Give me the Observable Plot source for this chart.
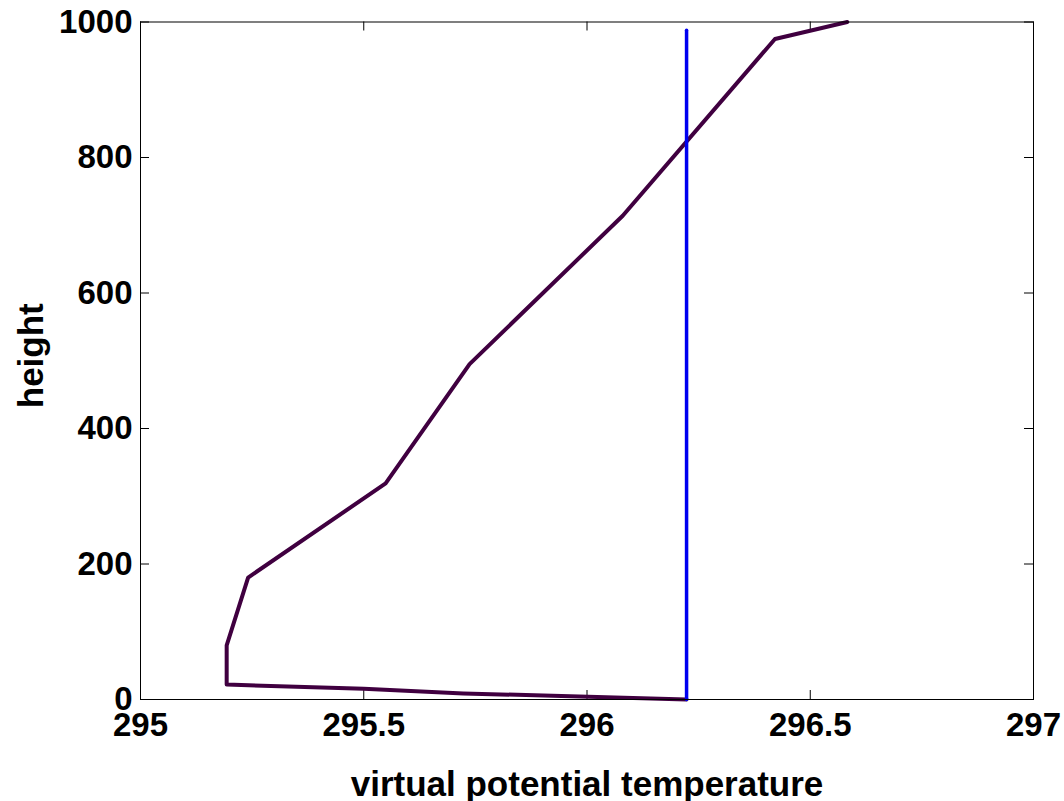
<!DOCTYPE html>
<html>
<head>
<meta charset="utf-8">
<script src="https://cdn.jsdelivr.net/npm/d3@7"></script>
<script src="https://cdn.jsdelivr.net/npm/@observablehq/plot@0.6"></script>
<style>
  html, body { margin: 0; padding: 0; background: white; }
  svg { display: block; }
</style>
</head>
<body>
<div id="chart"></div>
<script>
// Virtual potential temperature profile (K) vs height
const theta = [296.223, 295.723, 295.5, 295.193, 295.193, 295.241, 295.549, 295.737, 296.080, 296.421, 296.583];
const heightVals = [0, 9, 16, 22, 80, 180, 319, 495, 714, 975, 1000];

// Reference (mean) virtual potential temperature
const refTheta = [296.223, 296.223];
const refHeight = [0, 988];

const xTicks = [295, 295.5, 296, 296.5, 297];
const yTicks = [0, 200, 400, 600, 800, 1000];
const xTickLabels = ["295", "295.5", "296", "296.5", "297"];
const yTickLabels = ["0", "200", "400", "600", "800", "1000"];

const xLabel = "virtual potential temperature";
const yLabel = "height";

const profile = theta.map((t, i) => ({t, h: heightVals[i]}));
const refLine = refTheta.map((t, i) => ({t, h: refHeight[i]}));

const W = 1064, H = 801;
const mL = 140, mR = 31, mT = 21.5, mB = 102;
const fw = W - mL - mR, fh = H - mT - mB;
const tickLen = 9;

const chart = Plot.plot({
  width: W,
  height: H,
  marginLeft: mL,
  marginRight: mR,
  marginTop: mT,
  marginBottom: mB,
  x: {domain: [295, 297]},
  y: {domain: [0, 1000]},
  style: {fontFamily: "'Liberation Sans', Arial, sans-serif", fontWeight: "bold", background: "white", color: "black"},
  marks: [
    // inward ticks on all four sides
    Plot.tickX(xTicks, {x: d => d, insetTop: fh - tickLen, stroke: "black", strokeWidth: 1}),
    Plot.tickX(xTicks, {x: d => d, insetBottom: fh - tickLen, stroke: "black", strokeWidth: 1}),
    Plot.tickY(yTicks, {y: d => d, insetRight: fw - tickLen, stroke: "black", strokeWidth: 1}),
    Plot.tickY(yTicks, {y: d => d, insetLeft: fw - tickLen, stroke: "black", strokeWidth: 1}),
    Plot.axisX(xTicks, {anchor: "bottom", tickSize: 0, tickPadding: 13, fontSize: 33, fontWeight: "bold",
      tickFormat: (d, i) => xTickLabels[i], label: null}),
    Plot.axisY(yTicks, {anchor: "left", tickSize: 0, tickPadding: 8, fontSize: 33, fontWeight: "bold",
      tickFormat: (d, i) => yTickLabels[i], label: null}),
    Plot.line(profile, {x: "t", y: "h", stroke: "#400040", strokeWidth: 4, strokeLinejoin: "round"}),
    Plot.line(refLine, {x: "t", y: "h", stroke: "#0000f0", strokeWidth: 3.5}),
    Plot.frame({stroke: "black", strokeWidth: 1}),
    Plot.text([xLabel], {frameAnchor: "bottom", dy: 96, lineAnchor: "bottom", textAnchor: "middle", fontSize: 35, fontWeight: "bold", fill: "black"}),
    Plot.text([yLabel], {frameAnchor: "left", dx: -98, dy: -5, rotate: -90, lineAnchor: "bottom", textAnchor: "middle", fontSize: 35, fontWeight: "bold", fill: "black"})
  ]
});
document.getElementById("chart").appendChild(chart);
</script>
</body>
</html>
